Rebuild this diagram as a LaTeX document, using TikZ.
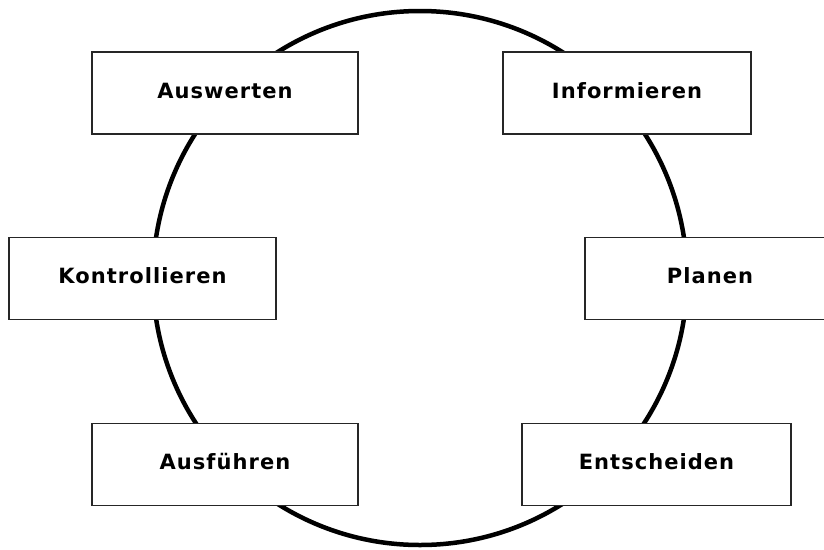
\documentclass[tikz,border=0pt]{standalone}
\usepackage{fontspec}
\setmainfont{DejaVu Sans}
\begin{document}
\begin{tikzpicture}[x=1pt,y=-1pt,
  stagebox/.style={draw=black!85, line width=1.2pt, fill=white, rectangle,
    inner sep=0pt, minimum height=82pt, text height=16pt, text depth=6pt,
    font=\fontsize{21}{25}\selectfont\bfseries\addfontfeature{LetterSpace=5}}]
\useasboundingbox (0,0) rectangle (824,549);
\clip (0,0) rectangle (824,549);
\draw[line width=4.5pt] (420,278) circle[radius=267];
\node[stagebox, minimum width=266pt] (ausw) at (225,93) {Auswerten};
\node[stagebox, minimum width=248pt] (info) at (627,93) {Informieren};
\node[stagebox, minimum width=267pt] (kontr) at (142.5,278.5) {Kontrollieren};
\node[stagebox, minimum width=250pt] (plan) at (710,278.5) {Planen};
\node[stagebox, minimum width=266pt] (ausf) at (225,464.5) {Ausführen};
\node[stagebox, minimum width=269pt] (ents) at (656.5,464.5) {Entscheiden};
\end{tikzpicture}
\end{document}
